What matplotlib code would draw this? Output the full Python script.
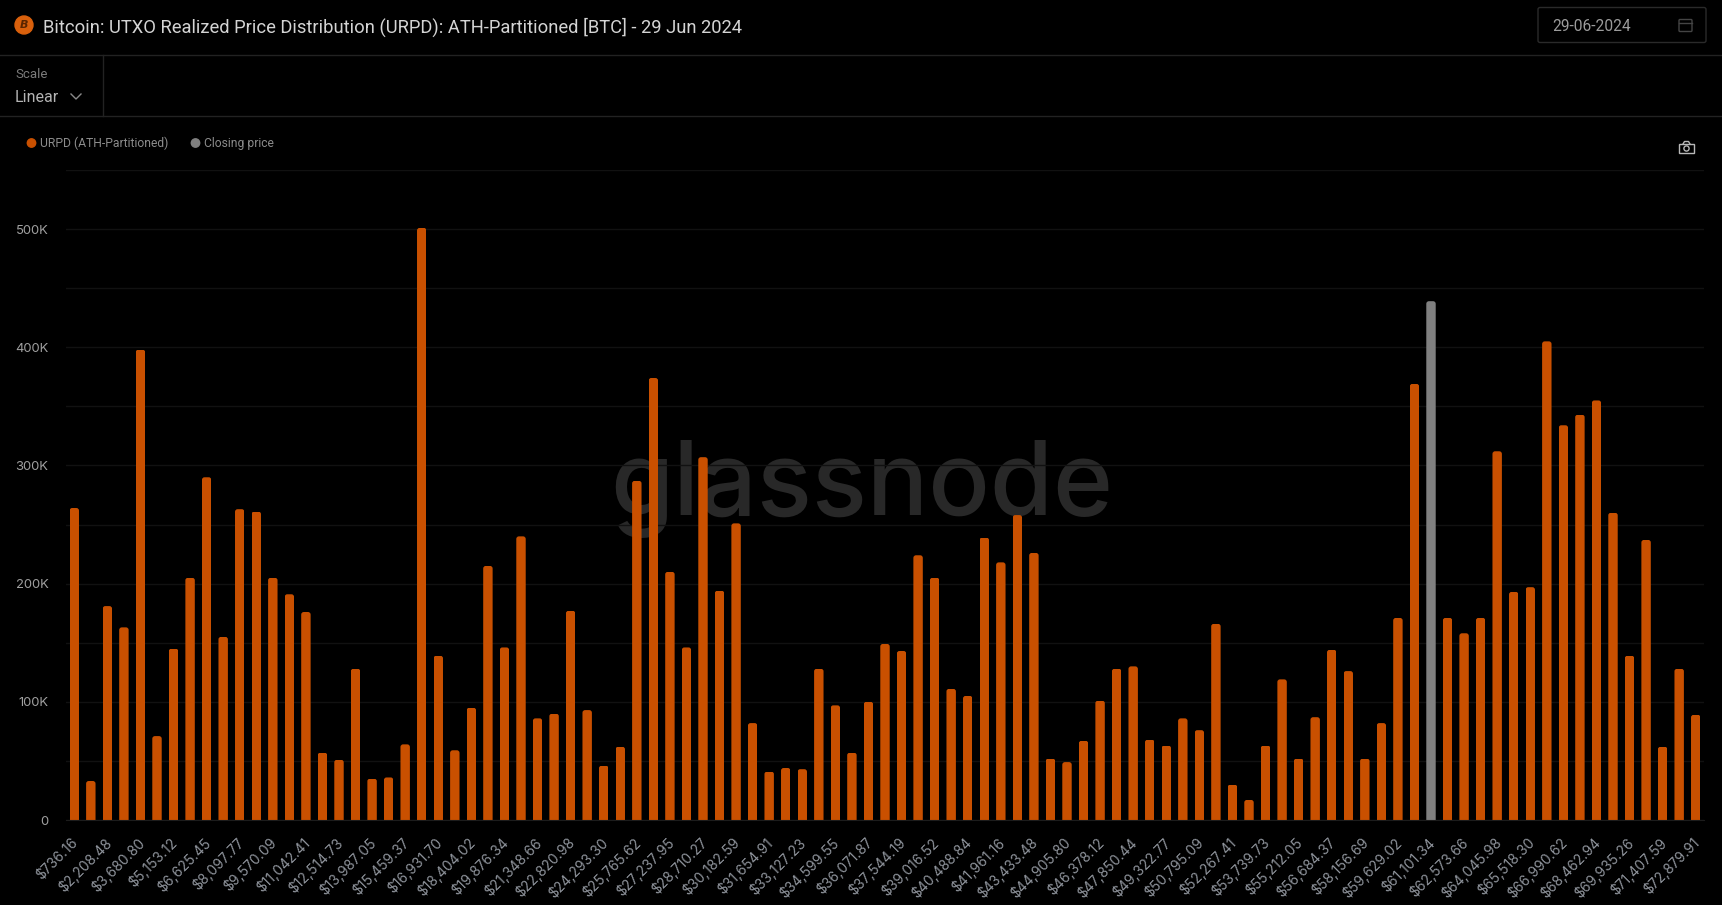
import matplotlib
matplotlib.use("Agg")
import matplotlib.pyplot as plt
from matplotlib.patches import FancyBboxPatch, Circle, Rectangle
from matplotlib.lines import Line2D
from matplotlib.transforms import ScaledTranslation

W, H = 1722, 905

title = "Bitcoin: UTXO Realized Price Distribution (URPD): ATH-Partitioned [BTC] - 29 Jun 2024"
date_text = "29-06-2024"
legend_names = ["URPD (ATH-Partitioned)", "Closing price"]

# rotulos do eixo x (um a cada duas barras)
tick_labels = [
    "$736.16", "$2,208.48", "$3,680.80", "$5,153.12", "$6,625.45", "$8,097.77", "$9,570.09",
    "$11,042.41", "$12,514.73", "$13,987.05", "$15,459.37", "$16,931.70", "$18,404.02",
    "$19,876.34", "$21,348.66", "$22,820.98", "$24,293.30", "$25,765.62", "$27,237.95",
    "$28,710.27", "$30,182.59", "$31,654.91", "$33,127.23", "$34,599.55", "$36,071.87",
    "$37,544.19", "$39,016.52", "$40,488.84", "$41,961.16", "$43,433.48", "$44,905.80",
    "$46,378.12", "$47,850.44", "$49,322.77", "$50,795.09", "$52,267.41", "$53,739.73",
    "$55,212.05", "$56,684.37", "$58,156.69", "$59,629.02", "$61,101.34", "$62,573.66",
    "$64,045.98", "$65,518.30", "$66,990.62", "$68,462.94", "$69,935.26", "$71,407.59",
    "$72,879.91",
]

# valores (BTC)
urpd = [
    264, 33, 181, 163, 398, 71, 145, 205, 290, 155, 263, 261, 205, 191, 176, 57, 51, 128, 35, 36,
    64, 501, 139, 59, 95, 215, 146, 240, 86, 90, 177, 93, 46, 62, 287, 374, 210, 146, 307, 194,
    251, 82, 41, 44, 43, 128, 97, 57, 100, 149, 143, 224, 205, 111, 105, 239, 218, 258, 226, 52,
    49, 67, 101, 128, 130, 68, 63, 86, 76, 166, 30, 17, 63, 119, 52, 87, 144, 126, 52, 82,
    171, 369, 439, 171, 158, 171, 312, 193, 197, 405, 334, 343, 355, 260, 139, 237, 62, 128, 89,
]
closing_index = 82

ORANGE = "#c95000"
GREY = "#808080"
BG = "#000000"
LINE = "#222222"
GRID = "#111111"

plt.rcParams["font.family"] = ["Inter", "DejaVu Sans"]

fig = plt.figure(figsize=(W / 100, H / 100), dpi=100, facecolor=BG)

# eixo principal em pixels da referencia
ax = fig.add_axes([66 / W, 1 - 820 / H, (1704 - 66) / W, (820 - 170) / H], facecolor=BG)

# camada da interface, em pixels (origem no topo)
ui = fig.add_axes([0, 0, 1, 1], zorder=5)
ui.set_xlim(0, W)
ui.set_ylim(H, 0)
ui.axis("off")
ui.patch.set_alpha(0)

xs = list(range(len(urpd)))
values = [v * 1000 for v in urpd]
colors = [GREY if i == closing_index else ORANGE for i in xs]

ax.set_xlim(-0.5, len(urpd) - 0.5)
ax.set_ylim(0, 550000)

# marca d'agua atras das barras
ax.text(0.486, 0.469, "glassnode", transform=ax.transAxes, ha="center", va="baseline",
        fontsize=73.5, color="#282828", family="Inter", weight="medium", zorder=0.5)

bars = ax.bar(xs, values, width=0.57, color=colors, zorder=2)

# topo arredondado das barras
aspect = (550000 / 650) / (1 / 16.545)
for rect in bars:
    clip = FancyBboxPatch((rect.get_x(), -20000), rect.get_width(), rect.get_height() + 20000,
                          boxstyle="round,pad=0,rounding_size=0.16", mutation_aspect=aspect,
                          transform=ax.transData)
    rect.set_clip_path(clip)

ax.set_yticks(range(0, 550001, 50000), minor=False)
ax.set_yticklabels(["0", "", "100K", "", "200K", "", "300K", "", "400K", "", "500K", ""],
                   fontsize=9.4, color="#a0a0a0")
ax.set_xticks(xs[::2])
ax.set_xticklabels(tick_labels, rotation=45, ha="right", rotation_mode="anchor",
                   fontsize=10, color="#8f949c")
ax.tick_params(axis="both", length=0)
ax.tick_params(axis="x", pad=11)
ax.tick_params(axis="y", pad=12.5)
ax.grid(axis="y", color=GRID, linewidth=1)
ax.set_axisbelow(True)
for s in ax.spines.values():
    s.set_visible(False)
ax.spines["bottom"].set_visible(True)
ax.spines["bottom"].set_color("#1c1c1c")

shift = ScaledTranslation(-3.5 / 100, 0, fig.dpi_scale_trans)
for lbl in ax.get_xticklabels():
    lbl.set_transform(lbl.get_transform() + shift)

# barra do topo
ui.add_patch(Circle((24, 25), 9, color="#d9600c"))
ui.text(24, 25.5, "B", fontsize=8, color="#5a2500", ha="center", va="center",
        family="DejaVu Sans", weight="bold", style="italic")
ui.text(43, 27, title, fontsize=13.2, color="#d4d4d4", va="center", family="Roboto")
ui.add_line(Line2D([0, W], [55, 55], color=LINE, lw=1))
ui.add_line(Line2D([0, W], [116, 116], color=LINE, lw=1))
ui.add_line(Line2D([103, 103], [55, 116], color=LINE, lw=1))

# seletor de escala
ui.text(15, 75, "Scale", fontsize=9.5, color="#7c7c7c", va="center", family="Roboto")
ui.text(15, 98, "Linear", fontsize=11.5, color="#b4b4b4", va="center", family="Roboto")
ui.add_line(Line2D([71, 76, 81], [94, 99, 94], color="#8a8a8a", lw=1))

# seletor de data
ui.add_patch(FancyBboxPatch((1538, 7.5), 168, 35, boxstyle="round,pad=0,rounding_size=2",
                            fc="none", ec="#2a2a2a", lw=1))
ui.text(1552, 26.5, date_text, fontsize=11.2, color="#9c9c9c", va="center", family="Roboto")
ui.add_patch(FancyBboxPatch((1679, 19.5), 13, 12, boxstyle="round,pad=0,rounding_size=1",
                            fc="none", ec="#444444", lw=1))
ui.add_line(Line2D([1679, 1692], [23.5, 23.5], color="#444444", lw=1))

# legenda
ui.add_patch(Circle((31.5, 143), 4.2, color=ORANGE))
ui.text(40, 143, legend_names[0], fontsize=8.7, color="#8c8c8c", va="center", family="Roboto")
ui.add_patch(Circle((195.5, 143), 4.2, color=GREY))
ui.text(204, 143, legend_names[1], fontsize=8.7, color="#8c8c8c", va="center", family="Roboto")

# icone da camera
ui.add_patch(Rectangle((1679, 144), 15, 9.5, fc="none", ec="#b8b8b8", lw=1))
ui.add_patch(Circle((1686.5, 148.5), 2.6, fc="none", ec="#b8b8b8", lw=1))
ui.add_line(Line2D([1683, 1684.5, 1688.5, 1690], [144, 141.5, 141.5, 144], color="#b8b8b8", lw=1))

fig.savefig("out.png", dpi=100, facecolor=BG)
